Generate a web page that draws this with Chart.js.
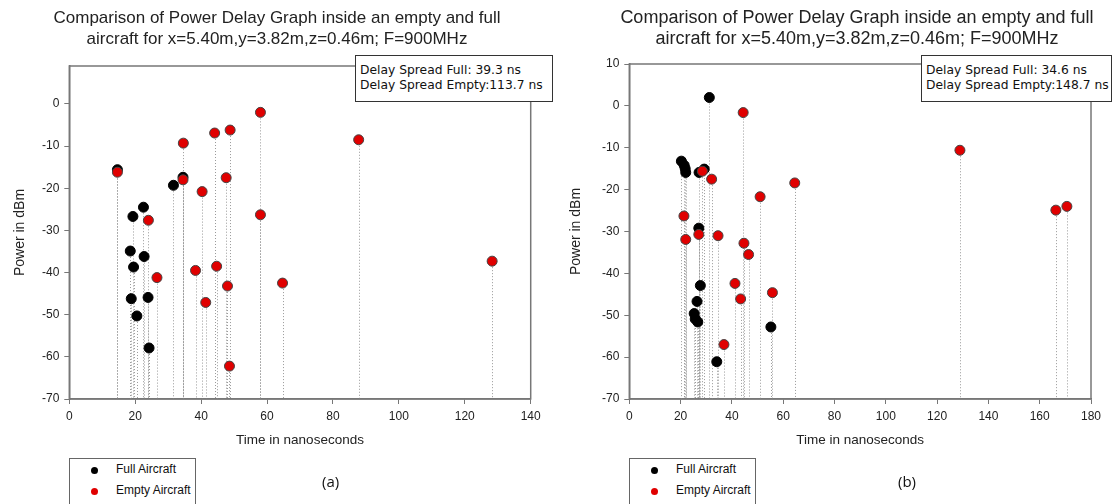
<!DOCTYPE html>
<html>
<head>
<meta charset="utf-8">
<script src="https://cdn.jsdelivr.net/npm/chart.js@4/dist/chart.umd.min.js"></script>
<style>
  html, body { margin: 0; padding: 0; background: #fff; }
  body { position: relative; width: 1112px; height: 504px; overflow: hidden; font-family: "Liberation Sans", Arial, sans-serif; }
  .pane { position: absolute; top: 0; width: 556px; height: 504px; }
  .title { position: absolute; top: 7px; font-size: 17px; line-height: 21px; color: #222; text-align: center; white-space: nowrap; width: 520px; }
  .spread { position: absolute; top: 55px; height: 47px; border: 1px solid #333; background: #fff; box-sizing: border-box;
            font-family: "DejaVu Sans", sans-serif; font-size: 12.3px; line-height: 15px; padding: 7px 0 0 4px; color: #111; white-space: nowrap; }
  .legend { position: absolute; top: 458px; width: 127px; height: 60px; border: 1px solid #666; box-sizing: border-box; background: #fff; }
  .legend div { position: absolute; left: 46px; font-family: "Liberation Sans Narrow", "Liberation Sans", sans-serif; font-size: 12px; color: #111; white-space: nowrap; }
  .legend span { position: absolute; left: 21px; width: 7px; height: 7px; border-radius: 50%; }
  .tag { position: absolute; top: 471px; font-family: "Open Sans", sans-serif; font-size: 15px; color: #111; }
</style>
</head>
<body>
<div class="pane" style="left:0"><canvas id="chartA" width="556" height="504"></canvas></div>
<div class="pane" style="left:556px"><canvas id="chartB" width="556" height="504"></canvas></div>

<div class="title" style="left:17px">Comparison of Power Delay Graph inside an empty and full<br>aircraft for x=5.40m,y=3.82m,z=0.46m; F=900MHz</div>
<div class="title" style="left:597px;font-size:18px">Comparison of Power Delay Graph inside an empty and full<br>aircraft for x=5.40m,y=3.82m,z=0.46m; F=900MHz</div>

<div class="spread" style="left:355px;width:198px">Delay Spread Full: 39.3 ns<br>Delay Spread Empty:113.7 ns</div>
<div class="spread" style="left:921px;width:191px">Delay Spread Full: 34.6 ns<br>Delay Spread Empty:148.7 ns</div>

<div class="legend" style="left:69px">
  <span style="top:8px;background:#000"></span><div style="top:3px">Full Aircraft</div>
  <span style="top:29px;background:#e00000"></span><div style="top:24px">Empty Aircraft</div>
</div>
<div class="legend" style="left:629px">
  <span style="top:8px;background:#000"></span><div style="top:3px">Full Aircraft</div>
  <span style="top:29px;background:#e00000"></span><div style="top:24px">Empty Aircraft</div>
</div>
<div class="tag" style="left:322px">(a)</div>
<div class="tag" style="left:898px">(b)</div>

<script>
// (a) empty vs full aircraft, delay in ns / power in dBm
const fullTimeA = [14.6, 19.3, 22.5, 18.5, 22.7, 19.5, 18.8, 23.9, 20.5, 24.2, 31.6, 34.5];
const fullPowerA = [-15.6, -26.7, -24.5, -34.9, -36.2, -38.7, -46.2, -45.9, -50.3, -57.9, -19.3, -17.4];
const emptyTimeA = [14.6, 24.0, 26.6, 34.6, 34.5, 40.3, 38.3, 41.4, 44.1, 44.7, 48.8, 47.6, 48.0, 48.6, 58.0, 58.0, 64.7, 87.8, 128.3];
const emptyPowerA = [-16.2, -27.6, -41.2, -9.3, -18.0, -20.8, -39.5, -47.1, -6.9, -38.5, -6.2, -17.5, -43.2, -62.2, -2.0, -26.3, -42.5, -8.5, -37.3];

// (b)
const fullTimeB = [20.3, 21.4, 21.8, 22.0, 31.2, 29.2, 27.2, 27.1, 27.7, 26.4, 25.3, 25.7, 26.7, 34.1, 55.2];
const fullPowerB = [-13.2, -14.2, -15.0, -15.9, 2.0, -15.1, -15.9, -29.2, -42.9, -46.7, -49.6, -50.9, -51.6, -61.1, -52.8];
const emptyTimeB = [21.3, 22.0, 27.1, 28.5, 32.1, 34.6, 36.9, 41.2, 43.4, 44.4, 44.7, 46.5, 51.0, 55.8, 64.5, 128.9, 166.3, 170.6];
const emptyPowerB = [-26.3, -31.9, -30.7, -15.6, -17.5, -31.0, -57.0, -42.4, -46.1, -1.6, -32.8, -35.5, -21.7, -44.6, -18.4, -10.6, -24.9, -24.0];

const timeTicksA = [0, 20, 40, 60, 80, 100, 120, 140];
const timeTicksB = [0, 20, 40, 60, 80, 100, 120, 140, 160, 180];
const powerTicksA = [0, -10, -20, -30, -40, -50, -60, -70];
const powerTicksB = [10, 0, -10, -20, -30, -40, -50, -60, -70];

const toPoints = (xs, ys) => xs.map((x, i) => ({ x: x, y: ys[i] }));

// dotted drop lines from each point down to the x axis, plus the box frame
const stems = {
  id: 'stems',
  beforeDatasetsDraw(chart) {
    const { ctx, chartArea } = chart;
    ctx.save();
    ctx.strokeStyle = '#999';
    ctx.lineWidth = 1;
    ctx.setLineDash([1, 2]);
    chart.data.datasets.forEach((ds, i) => {
      chart.getDatasetMeta(i).data.forEach(pt => {
        const x = Math.round(pt.x) + 0.5;
        ctx.beginPath();
        ctx.moveTo(x, pt.y);
        ctx.lineTo(x, chartArea.bottom);
        ctx.stroke();
      });
    });
    ctx.setLineDash([]);
    ctx.strokeStyle = '#777';
    ctx.lineWidth = 1.5;
    ctx.strokeRect(chartArea.left, chartArea.top, chartArea.right - chartArea.left, chartArea.bottom - chartArea.top);
    ctx.restore();
  }
};

function makeChart(id, full, empty, xTicks, yTicks, xMax, yMax, yWidth, top, right) {
  const tickFont = { family: 'Liberation Sans', size: 12 };
  return new Chart(document.getElementById(id), {
    type: 'scatter',
    data: {
      datasets: [
        { label: 'Full Aircraft', data: full, order: 1,
          backgroundColor: '#000', borderColor: '#000', borderWidth: 1, pointRadius: 5 },
        { label: 'Empty Aircraft', data: empty, order: 0,
          backgroundColor: '#e00000', borderColor: '#444', borderWidth: 1, pointRadius: 5 }
      ]
    },
    options: {
      responsive: false,
      animation: false,
      layout: { padding: { top: top, right: right, left: 0, bottom: 0 } },
      plugins: { legend: { display: false }, tooltip: { enabled: false } },
      scales: {
        x: {
          type: 'linear', min: 0, max: xMax,
          afterBuildTicks: s => { s.ticks = xTicks.map(v => ({ value: v })); },
          afterFit: s => { s.height = 105; },
          grid: { drawOnChartArea: false, drawTicks: true, tickLength: 5, color: '#777' },
          border: { display: true, color: '#777', width: 1.5 },
          ticks: { font: tickFont, color: '#222', padding: 5, maxRotation: 0 },
          title: { display: true, text: 'Time in nanoseconds', font: { family: 'Liberation Sans', size: 13.5 }, color: '#222',
                   padding: { top: 0, bottom: 56 } }
        },
        y: {
          type: 'linear', min: -70, max: yMax,
          afterBuildTicks: s => { s.ticks = yTicks.map(v => ({ value: v })); },
          afterFit: s => { s.width = yWidth; },
          grid: { drawOnChartArea: false, drawTicks: true, tickLength: 5, color: '#777' },
          border: { display: true, color: '#777', width: 1.5 },
          ticks: { font: tickFont, color: '#222', padding: 5 },
          title: { display: true, text: 'Power in dBm', font: { family: 'Liberation Sans', size: 14 }, color: '#222',
                   padding: { top: 12, bottom: 0 } }
        }
      }
    },
    plugins: [stems]
  });
}

makeChart('chartA', toPoints(fullTimeA, fullPowerA), toPoints(emptyTimeA, emptyPowerA),
  timeTicksA, powerTicksA, 140, 9, 69.3, 66, 25.3);
makeChart('chartB', toPoints(fullTimeB, fullPowerB), toPoints(emptyTimeB, emptyPowerB),
  timeTicksB, powerTicksB, 180, 10, 73.3, 64, 21);
</script>
</body>
</html>
